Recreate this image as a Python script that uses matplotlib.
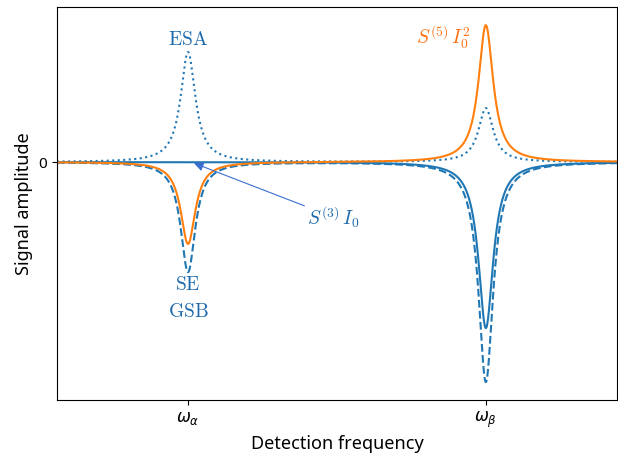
import numpy as np
import matplotlib
matplotlib.use('Agg')
import matplotlib.pyplot as plt

plt.rcParams['font.family'] = ['Noto Sans', 'DejaVu Sans']

# peak positions (detection frequency units)
w_alpha = 1.0
w_beta = 2.0
gamma = 0.03  # half width of every line

# peak amplitudes (dashed beta peak = -1)
se_gsb_amp = [-0.5, -1.0]      # dashed: SE + GSB
esa_amp = [0.5, 0.245]         # dotted: ESA
s5_amp = [-0.373, 0.623]       # orange: S(5) I0^2

x_lim = (0.56, 2.44)
y_lim = (-1.082, 0.705)

x_ticks = [w_alpha, w_beta]
x_tick_labels = [r'$\omega_\alpha$', r'$\omega_\beta$']


def lorentz(x, x0, amp):
    return amp * gamma**2 / ((x - x0)**2 + gamma**2)


x = np.linspace(x_lim[0], x_lim[1], 4000)
se_gsb = lorentz(x, w_alpha, se_gsb_amp[0]) + lorentz(x, w_beta, se_gsb_amp[1])
esa = lorentz(x, w_alpha, esa_amp[0]) + lorentz(x, w_beta, esa_amp[1])
s3 = se_gsb + esa
s5 = lorentz(x, w_alpha, s5_amp[0]) + lorentz(x, w_beta, s5_amp[1])

fig = plt.figure(figsize=(6.18, 4.53), dpi=100)
ax = fig.add_axes([0.0922, 0.117, 0.906, 0.8675])

ax.plot(x, se_gsb, '--', color='C0')
ax.plot(x, esa, ':', color='C0')
ax.plot(x, s3, '-', color='C0')
ax.plot(x, s5, '-', color='C1')

ax.set_xlim(*x_lim)
ax.set_ylim(*y_lim)
ax.set_xticks(x_ticks)
ax.set_xticklabels(x_tick_labels, fontsize=12)
ax.set_yticks([0])
ax.set_yticklabels(['0'], fontsize=11)
ax.set_xlabel('Detection frequency', fontsize=13)
ax.set_ylabel('Signal amplitude', fontsize=13)

txt = dict(fontsize=14, math_fontfamily='cm', color='#1f6aad')
ax.text(w_alpha, 0.555, r'$\mathrm{ESA}$', ha='center', va='center', **txt)
ax.text(w_alpha, -0.56, r'$\mathrm{SE}$', ha='center', va='center', **txt)
ax.text(w_alpha, -0.68, r'$\mathrm{GSB}$', ha='center', va='center', **txt)
ax.text(1.95, 0.568, r'$S^{(5)}\,I_0^2$', ha='right', va='center',
        fontsize=14, math_fontfamily='cm', color='#ff6f0e')
ax.annotate(r'$S^{(3)}\,I_0$', xy=(1.02, -0.005), xytext=(1.40, -0.25),
            ha='left', va='center', fontsize=14, math_fontfamily='cm', color='#1f6aad',
            arrowprops=dict(arrowstyle='-|>', color='#3b6fcf', lw=0.8,
                            shrinkA=0, shrinkB=0))

fig.savefig('out.png', dpi=100)
